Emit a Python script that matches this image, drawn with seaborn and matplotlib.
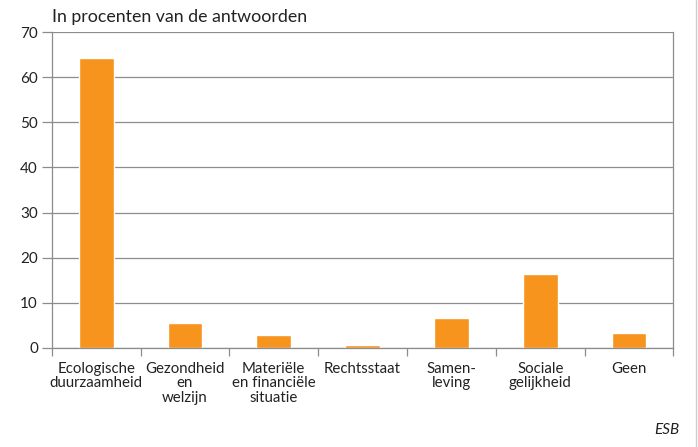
import matplotlib
matplotlib.use("Agg")
import matplotlib.pyplot as plt
import seaborn as sns
import pandas as pd
import numpy as np
from matplotlib.ticker import FixedLocator

categories = ["Ecologische\nduurzaamheid", "Gezondheid\nen\nwelzijn", "Materiële\nen financiële\nsituatie",
              "Rechtsstaat", "Samen-\nleving", "Sociale\ngelijkheid", "Geen"]
values = [64.2, 5.5, 2.9, 0.7, 6.6, 16.4, 3.3]
y_ticks = [0, 10, 20, 30, 40, 50, 60, 70]
title = "In procenten van de antwoorden"
source = "ESB"

sns.set_theme(style="white")
plt.rcParams['font.family'] = ['Lato', 'DejaVu Sans']

df = pd.DataFrame({"cat": categories, "val": values})
fig = plt.figure(figsize=(6.98, 4.47), dpi=100)
ax = fig.add_axes([0.0742, 0.2215, 0.8906, 0.7069])
sns.barplot(data=df, x="cat", y="val", color="#F7941D", width=0.39, ax=ax, saturation=1)

grid_c = "#8c8c8c"
ax.set_ylim(0, 70)
ax.set_xlim(-0.5, len(categories) - 0.5)
ax.set_yticks(y_ticks)
ax.set_yticklabels([str(t) for t in y_ticks], fontsize=11, color="#222222")
ax.yaxis.grid(True, color=grid_c, linewidth=0.9)
ax.set_axisbelow(True)
ax.tick_params(axis="y", length=7, color=grid_c, width=0.9, pad=3, left=True)
ax.set_xticks(range(len(categories)))
ax.set_xticklabels(categories, fontsize=10.8, color="#222222", linespacing=1.05)
ax.tick_params(axis="x", length=0, pad=10)
ax.xaxis.set_minor_locator(FixedLocator(np.arange(-0.5, len(categories), 1.0)))
ax.tick_params(axis="x", which="minor", length=6, color=grid_c, width=0.9, bottom=True)
for s in ["left", "right", "bottom"]:
    ax.spines[s].set_color(grid_c)
    ax.spines[s].set_linewidth(0.9)
ax.spines["top"].set_visible(False)
ax.set_xlabel("")
ax.set_ylabel("")

fig.text(0.0745, 0.943, title, fontsize=12.8, color="#222222", ha="left", va="bottom")
fig.text(0.974, 0.022, source, fontsize=11, style="italic", color="#222222", ha="right", va="bottom")
fig.add_artist(plt.Line2D([0.9975, 0.9975], [0, 1], color="#cccccc", linewidth=1, transform=fig.transFigure))

fig.savefig("out.png", dpi=100)
